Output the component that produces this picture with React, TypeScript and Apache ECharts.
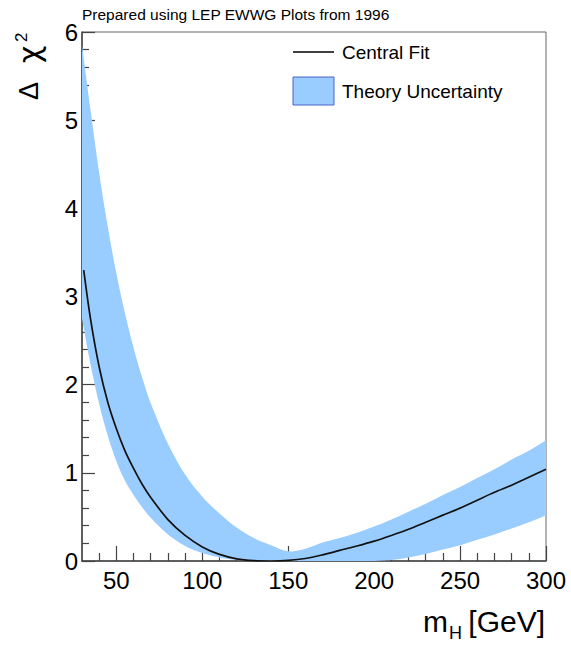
import React, { useEffect, useRef } from "react";
import * as echarts from "echarts";

// Theory uncertainty band (mH in GeV, Delta chi^2)
const bandX = [30, 35, 40, 45, 50, 55, 60, 65, 70, 80, 90, 100, 110, 120, 130, 140, 150, 160, 170, 180, 190, 200, 210, 220, 230, 240, 250, 260, 270, 280, 290, 300];
const bandUpper = [5.85, 5.11, 4.4, 3.79, 3.26, 2.81, 2.42, 2.08, 1.79, 1.33, 0.98, 0.73, 0.54, 0.38, 0.26, 0.18, 0.11, 0.14, 0.21, 0.26, 0.32, 0.39, 0.47, 0.56, 0.65, 0.75, 0.84, 0.94, 1.04, 1.15, 1.25, 1.37];
const bandLower = [2.75, 2.23, 1.78, 1.42, 1.13, 0.91, 0.75, 0.61, 0.49, 0.3, 0.17, 0.09, 0.04, 0.012, 0.002, 0, 0, 0, 0, 0, 0, 0, 0.01, 0.04, 0.08, 0.13, 0.18, 0.24, 0.3, 0.37, 0.44, 0.52];

// Central fit
const fitX = [31, 35, 40, 45, 50, 55, 60, 65, 70, 80, 90, 100, 110, 120, 130, 140, 150, 160, 170, 180, 190, 200, 210, 220, 230, 240, 250, 260, 270, 280, 290, 300];
const fitY = [3.3, 2.74, 2.2, 1.8, 1.5, 1.25, 1.05, 0.87, 0.72, 0.47, 0.29, 0.16, 0.075, 0.025, 0.004, 0, 0.006, 0.028, 0.07, 0.12, 0.17, 0.225, 0.29, 0.36, 0.44, 0.52, 0.6, 0.69, 0.78, 0.86, 0.95, 1.04];

// Axis ticks
const xMajorTicks = [50, 100, 150, 200, 250, 300];
const xMinorTicks = [40, 60, 70, 80, 90, 110, 120, 130, 140, 160, 170, 180, 190, 210, 220, 230, 240, 260, 270, 280, 290];

const FONT = '"Liberation Sans", Arial, Helvetica, sans-serif';
const BAND_COLOR = "#99ccff";

// Catmull-Rom spline through pixel points -> SVG path commands (no leading M)
function splineSegments(pts: number[][]): string {
  let d = "";
  const n = pts.length;
  for (let i = 0; i < n - 1; i++) {
    const p0 = pts[Math.max(0, i - 1)];
    const p1 = pts[i];
    const p2 = pts[i + 1];
    const p3 = pts[Math.min(n - 1, i + 2)];
    const c1x = p1[0] + (p2[0] - p0[0]) / 6;
    const c1y = p1[1] + (p2[1] - p0[1]) / 6;
    const c2x = p2[0] - (p3[0] - p1[0]) / 6;
    const c2y = p2[1] - (p3[1] - p1[1]) / 6;
    d += ` C ${c1x} ${c1y} ${c2x} ${c2y} ${p2[0]} ${p2[1]}`;
  }
  return d;
}

export default function App() {
  const ref = useRef<HTMLDivElement>(null);
  useEffect(() => {
    if (!ref.current) return;
    const chart = echarts.init(ref.current, null, { renderer: "svg" });
    const bandData = bandX.map((x, i) => [x, bandLower[i], bandUpper[i]]);
    const fitData = fitX.map((x, i) => [x, fitY[i]]);
    const option: any = {
      animation: false,
      backgroundColor: "#fff",
      grid: {
        left: 82,
        right: 25,
        top: 32,
        bottom: 84,
        show: true,
        borderColor: "#666",
        borderWidth: 1,
        backgroundColor: "transparent",
      },
      xAxis: [
        {
          type: "value",
          min: 30,
          max: 300,
          position: "bottom",
          axisLine: { show: true, onZero: false, lineStyle: { color: "#444", width: 1.5 } },
          axisTick: { show: true, inside: true, length: 15, customValues: xMajorTicks, lineStyle: { color: "#444", width: 1.2 } },
          axisLabel: { show: true, customValues: xMajorTicks, fontSize: 24, fontFamily: FONT, color: "#000", margin: 7 },
          splitLine: { show: false },
        },
        {
          type: "value",
          min: 30,
          max: 300,
          position: "bottom",
          axisLine: { show: false, onZero: false },
          axisTick: { show: true, inside: true, length: 8, customValues: xMinorTicks, lineStyle: { color: "#444", width: 1.2 } },
          axisLabel: { show: false },
          splitLine: { show: false },
        },
      ],
      yAxis: {
        type: "value",
        min: 0,
        max: 6,
        interval: 1,
        axisLine: { show: true, onZero: false, lineStyle: { color: "#444", width: 1.5 } },
        axisTick: { show: true, inside: true, length: 13, lineStyle: { color: "#444", width: 1.2 } },
        minorTick: { show: true, splitNumber: 5, length: 7, lineStyle: { color: "#444", width: 1.2 } },
        axisLabel: { fontSize: 24, fontFamily: FONT, color: "#000", margin: 4 },
        splitLine: { show: false },
        minorSplitLine: { show: false },
      },
      series: [
        {
          name: "Theory Uncertainty",
          type: "custom",
          xAxisIndex: 0,
          data: bandData,
          encode: { x: 0, y: [1, 2] },
          silent: true,
          z: 1,
          renderItem: (params: any, api: any) => {
            if (params.dataIndex !== 0) return null;
            const up = bandData.map((d) => api.coord([d[0], d[2]]));
            const lo = bandData.map((d) => api.coord([d[0], d[1]])).reverse();
            let d = `M ${up[0][0]} ${up[0][1]}` + splineSegments(up);
            d += ` L ${lo[0][0]} ${lo[0][1]}` + splineSegments(lo) + " Z";
            return {
              type: "path",
              shape: { pathData: d },
              style: { fill: BAND_COLOR, stroke: "none" },
            };
          },
        },
        {
          name: "Central Fit",
          type: "line",
          xAxisIndex: 0,
          data: fitData,
          smooth: 0.3,
          symbol: "none",
          lineStyle: { color: "#111", width: 1.7 },
          silent: true,
          z: 3,
        },
      ],
      graphic: [
        {
          type: "text",
          x: 82,
          y: 14.5,
          style: { text: "Prepared using LEP EWWG Plots from 1996", fontSize: 15.5, fontFamily: FONT, fill: "#000", align: "left", verticalAlign: "middle" },
        },
        {
          type: "line",
          shape: { x1: 293, y1: 52, x2: 334, y2: 52 },
          style: { stroke: "#000", lineWidth: 1.6 },
        },
        {
          type: "text",
          x: 342,
          y: 52,
          style: { text: "Central Fit", fontSize: 19, fontFamily: FONT, fill: "#000", align: "left", verticalAlign: "middle" },
        },
        {
          type: "rect",
          shape: { x: 293, y: 77, width: 41, height: 28 },
          style: { fill: BAND_COLOR, stroke: "#4a63c8", lineWidth: 1 },
        },
        {
          type: "text",
          x: 342,
          y: 91.5,
          style: { text: "Theory Uncertainty", fontSize: 19, fontFamily: FONT, fill: "#000", align: "left", verticalAlign: "middle" },
        },
        {
          type: "text",
          x: 423,
          y: 621.6,
          style: { text: "m", fontSize: 30, fontFamily: FONT, fill: "#000", align: "left", verticalAlign: "middle" },
        },
        {
          type: "text",
          x: 449,
          y: 632.8,
          style: { text: "H", fontSize: 18, fontFamily: FONT, fill: "#000", align: "left", verticalAlign: "middle" },
        },
        {
          type: "text",
          x: 545,
          y: 621.6,
          style: { text: "[GeV]", fontSize: 30, fontFamily: FONT, fill: "#000", align: "right", verticalAlign: "middle" },
        },
        {
          type: "group",
          x: 38,
          y: 100,
          rotation: Math.PI / 2,
          children: [
            {
              type: "text",
              x: 0,
              y: -9.4,
              style: { text: "Δ", fontSize: 27, fontFamily: FONT, fill: "#000", align: "left", verticalAlign: "middle" },
            },
            {
              type: "text",
              x: 37,
              y: -9,
              style: { text: "χ", fontSize: 30, fontFamily: '"DejaVu Sans", sans-serif', fill: "#000", align: "left", verticalAlign: "middle" },
            },
            {
              type: "text",
              x: 58,
              y: -17,
              style: { text: "2", fontSize: 17, fontFamily: FONT, fill: "#000", align: "left", verticalAlign: "middle" },
            },
          ],
        },
      ],
    };
    chart.setOption(option);
    return () => chart.dispose();
  }, []);
  return <div ref={ref} style={{ position: "absolute", left: 0, top: 0, width: 571, height: 645 }} />;
}
